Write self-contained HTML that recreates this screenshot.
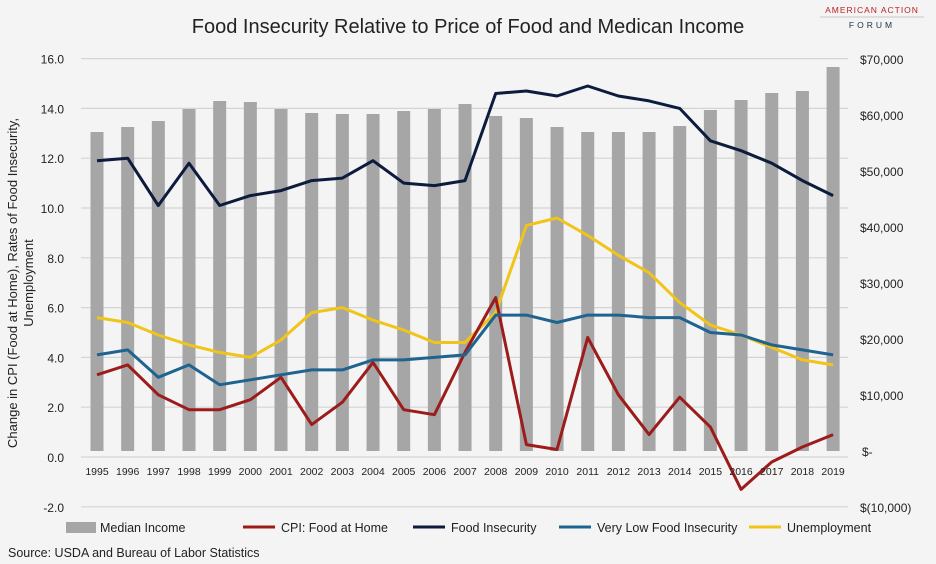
<!DOCTYPE html>
<html><head><meta charset="utf-8"><style>
body{margin:0;background:#f4f4f4;}
svg{display:block;font-family:"Liberation Sans",sans-serif;}
</style></head><body>
<svg width="936" height="564" viewBox="0 0 936 564">
<rect width="936" height="564" fill="#f4f4f4"/>
<text x="468" y="33" text-anchor="middle" font-size="20" fill="#222">Food Insecurity Relative to Price of Food and Medican Income</text>
<text x="872" y="13" text-anchor="middle" font-size="8.5" fill="#b22" letter-spacing="1">AMERICAN ACTION</text>
<line x1="820" y1="17" x2="924" y2="17" stroke="#999" stroke-width="0.6"/>
<text x="872" y="28" text-anchor="middle" font-size="8.5" fill="#234" letter-spacing="3">FORUM</text>
<g id="grid" stroke="#d4d4d4" stroke-width="1.2"></g>
<g id="bars" fill="#a6a6a6"></g>
<g id="lines" fill="none" stroke-width="3" stroke-linejoin="round"></g>
<g id="labels" font-size="12" fill="#222"></g>
<text transform="translate(20,283) rotate(-90)" text-anchor="middle" font-size="13" fill="#222"><tspan x="0" dy="-3">Change in CPI (Food at Home), Rates of Food Insecurity,</tspan><tspan x="0" dy="16">Unemployment</tspan></text>
<g font-size="12.5" fill="#222">
<rect x="66" y="522" width="30" height="11" fill="#a6a6a6"/><text x="100" y="532">Median Income</text>
<line x1="243" y1="527" x2="275" y2="527" stroke="#9c1c1c" stroke-width="3"/><text x="281" y="532">CPI: Food at Home</text>
<line x1="413" y1="527" x2="445" y2="527" stroke="#0d1b3d" stroke-width="3"/><text x="451" y="532">Food Insecurity</text>
<line x1="559" y1="527" x2="591" y2="527" stroke="#1f6391" stroke-width="3"/><text x="597" y="532">Very Low Food Insecurity</text>
<line x1="749" y1="527" x2="781" y2="527" stroke="#f0c419" stroke-width="3"/><text x="787" y="532">Unemployment</text>
<text x="8" y="557">Source: USDA and Bureau of Labor Statistics</text>
</g>
<script>
const ns="http://www.w3.org/2000/svg";
function el(p,t,a,txt){const e=document.createElementNS(ns,t);for(const k in a)e.setAttribute(k,a[k]);if(txt!==undefined)e.textContent=txt;document.getElementById(p).appendChild(e);}
const y=v=>457-v*24.9;
const x=i=>97+i*30.67;
for(let v=-2;v<=16;v+=2){el('grid','line',{x1:81,x2:848,y1:y(v),y2:y(v)});el('labels','text',{x:64,y:y(v)+5,'text-anchor':'end'},v.toFixed(1));}
const r=["$(10,000)","$-","$10,000","$20,000","$30,000","$40,000","$50,000","$60,000","$70,000"];
r.forEach((t,i)=>{const yy=507-i*56;el('labels','text',{x:t=="$-"?862:860,y:yy+5},t);});
const tops=[132,127,121,109,101,102,109,113,114,114,111,109,104,116,118,127,132,132,132,126,110,100,93,91,67];
tops.forEach((t,i)=>{el('bars','rect',{x:x(i)-6.5,y:t,width:13,height:451-t});el('labels','text',{x:x(i),y:475,'text-anchor':'middle','font-size':10.5},1995+i);});
const S=[
["#f0c419",[5.6,5.4,4.9,4.5,4.2,4.0,4.7,5.8,6.0,5.5,5.1,4.6,4.6,5.8,9.3,9.6,8.9,8.1,7.4,6.2,5.3,4.9,4.4,3.9,3.7]],
["#9c1c1c",[3.3,3.7,2.5,1.9,1.9,2.3,3.2,1.3,2.2,3.8,1.9,1.7,4.2,6.4,0.5,0.3,4.8,2.5,0.9,2.4,1.2,-1.3,-0.2,0.4,0.9]],
["#1f6391",[4.1,4.3,3.2,3.7,2.9,3.1,3.3,3.5,3.5,3.9,3.9,4.0,4.1,5.7,5.7,5.4,5.7,5.7,5.6,5.6,5.0,4.9,4.5,4.3,4.1]],
["#0d1b3d",[11.9,12.0,10.1,11.8,10.1,10.5,10.7,11.1,11.2,11.9,11.0,10.9,11.1,14.6,14.7,14.5,14.9,14.5,14.3,14.0,12.7,12.3,11.8,11.1,10.5]]];
S.forEach(([c,d])=>el('lines','polyline',{stroke:c,points:d.map((v,i)=>x(i).toFixed(1)+','+y(v).toFixed(1)).join(' ')}));
</script>
</svg>
</body></html>
